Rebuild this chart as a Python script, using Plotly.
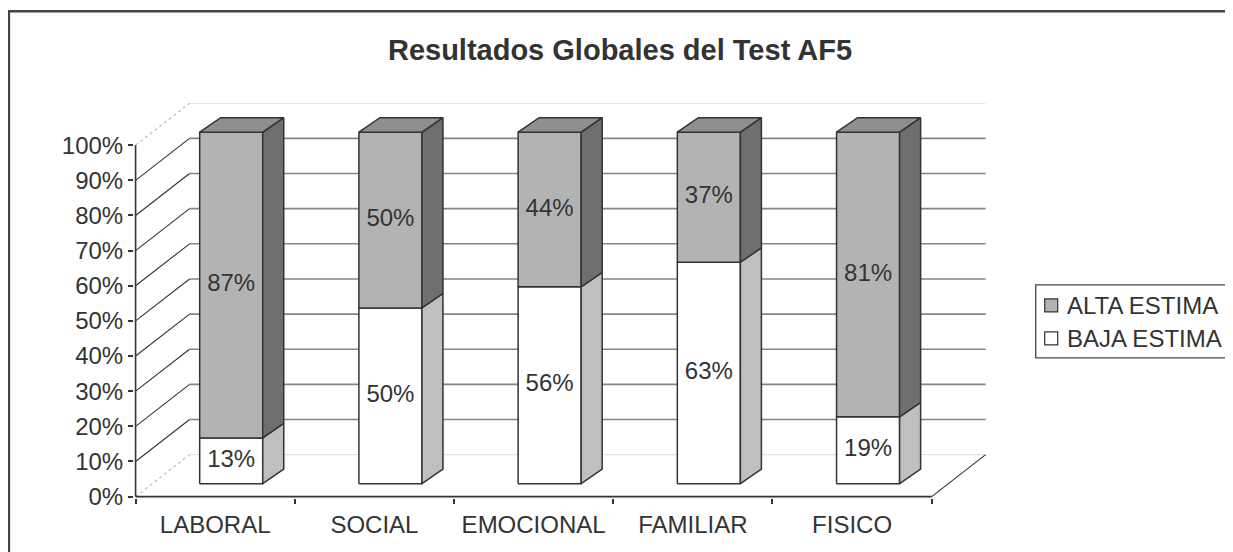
import plotly.graph_objects as go

# ---------------- data ----------------
categories = ["LABORAL", "SOCIAL", "EMOCIONAL", "FAMILIAR", "FISICO"]
alta_estima = [87, 50, 44, 37, 81]
baja_estima = [13, 50, 56, 63, 19]
series_names = ["ALTA ESTIMA", "BAJA ESTIMA"]
y_ticks = [0, 10, 20, 30, 40, 50, 60, 70, 80, 90, 100]
y_tick_labels = [f"{v}%" for v in y_ticks]
title_text = "Resultados Globales del Test AF5"

# ---------------- pseudo-3D geometry (in axis units) ----------------
WALL_DX, WALL_DY = 0.339, 11.93     # offset of back wall from front plane
BAR_DX, BAR_DY = 0.1005, 3.69       # offset of bar front face from front plane
DEPTH_DX, DEPTH_DY = 0.132, 4.12    # depth of each bar
HALF_W = 0.198                      # half width of bar front face

FONT = "Liberation Sans, Arial, sans-serif"
FS = 24
TXT = "#333333"
EDGE = "#333333"

C_ALTA_FRONT, C_ALTA_SIDE, C_ALTA_TOP = "#b3b3b3", "#6f6f6f", "#8f8f8f"
C_BAJA_FRONT, C_BAJA_SIDE = "#ffffff", "#bfbfbf"

n = len(categories)
x_left, x_right = -0.5, n - 0.5

fig = go.Figure()


def add_lines(segments, color, width, dash="solid"):
    xs, ys = [], []
    for (xa, ya), (xb, yb) in segments:
        xs += [xa, xb, None]
        ys += [ya, yb, None]
    fig.add_trace(go.Scatter(x=xs, y=ys, mode="lines", hoverinfo="skip",
                             line=dict(color=color, width=width, dash=dash)))


def add_polys(polys, fill, width=1.5):
    xs, ys = [], []
    for poly in polys:
        for px, py in poly + [poly[0]]:
            xs.append(px)
            ys.append(py)
        xs.append(None)
        ys.append(None)
    fig.add_trace(go.Scatter(x=xs, y=ys, mode="lines", fill="toself", fillcolor=fill,
                             hoverinfo="skip", line=dict(color=EDGE, width=width)))


# back wall gridlines
inner = [v for v in y_ticks if v not in (y_ticks[0], y_ticks[-1])]
outer = [y_ticks[0], y_ticks[-1]]
add_lines([((x_left + WALL_DX, v + WALL_DY), (x_right + WALL_DX, v + WALL_DY)) for v in outer],
          "#e2e2e2", 1.2)
add_lines([((x_left + WALL_DX, v + WALL_DY), (x_right + WALL_DX, v + WALL_DY)) for v in inner],
          "#858585", 1.6)
# left wall diagonals
add_lines([((x_left, v), (x_left + WALL_DX, v + WALL_DY)) for v in outer], "#bdbdbd", 1.2, "dot")
add_lines([((x_left, v), (x_left + WALL_DX, v + WALL_DY)) for v in inner], "#333333", 1.1)
# floor right edge
add_lines([((x_right, 0), (x_right + WALL_DX, WALL_DY))], "#333333", 1.1)
# front axis lines
add_lines([((x_left, y_ticks[0]), (x_left, y_ticks[-1])), ((x_left, 0), (x_right, 0))], "#333333", 1.6)

# bars
baja_front, baja_side, alta_front, alta_side, alta_top = [], [], [], [], []
for i in range(n):
    x0 = i + BAR_DX - HALF_W
    x1 = i + BAR_DX + HALF_W
    segs = [(0, baja_estima[i]), (baja_estima[i], baja_estima[i] + alta_estima[i])]
    for k, (lo, hi) in enumerate(segs):
        lo_y, hi_y = lo + BAR_DY, hi + BAR_DY
        front = [(x0, lo_y), (x1, lo_y), (x1, hi_y), (x0, hi_y)]
        side = [(x1, lo_y), (x1 + DEPTH_DX, lo_y + DEPTH_DY),
                (x1 + DEPTH_DX, hi_y + DEPTH_DY), (x1, hi_y)]
        if k == 0:
            baja_front.append(front)
            baja_side.append(side)
        else:
            alta_front.append(front)
            alta_side.append(side)
            alta_top.append([(x0, hi_y), (x1, hi_y),
                             (x1 + DEPTH_DX, hi_y + DEPTH_DY), (x0 + DEPTH_DX, hi_y + DEPTH_DY)])

add_polys(baja_front, C_BAJA_FRONT)
add_polys(baja_side, C_BAJA_SIDE)
add_polys(alta_front, C_ALTA_FRONT)
add_polys(alta_side, C_ALTA_SIDE)
add_polys(alta_top, C_ALTA_TOP)

# value labels
lx, ly, lt = [], [], []
for i in range(n):
    lx += [i + BAR_DX, i + BAR_DX]
    ly += [BAR_DY + baja_estima[i] / 2, BAR_DY + baja_estima[i] + alta_estima[i] / 2]
    lt += [f"{baja_estima[i]}%", f"{alta_estima[i]}%"]
fig.add_trace(go.Scatter(x=lx, y=ly, text=lt, mode="text", hoverinfo="skip",
                         textfont=dict(family=FONT, size=FS, color=TXT)))

# ---------------- layout ----------------
W, H = 1233, 552
OFF = 8  # page body margin compensation
ML, MR, MT, MB = 134.4 - OFF, 243.7 + OFF, 102.8 - OFF, 53.6 + OFF
pw, ph = W - ML - MR, H - MT - MB


def paper_x(p):
    return (p - OFF - ML) / pw


def paper_y(p):
    return (H - MB - (p - OFF)) / ph


shapes = [
    # outer chart border
    dict(type="rect", xref="paper", yref="paper", x0=paper_x(9.3), x1=paper_x(1260),
         y0=paper_y(580), y1=paper_y(11), line=dict(color="#444444", width=2.5)),
    # legend box
    dict(type="rect", xref="paper", yref="paper", x0=paper_x(1036), x1=paper_x(1250),
         y0=paper_y(358), y1=paper_y(285), line=dict(color="#444444", width=1.3),
         fillcolor="white"),
    dict(type="rect", xref="paper", yref="paper", x0=paper_x(1045), x1=paper_x(1058),
         y0=paper_y(312), y1=paper_y(299), line=dict(color="#333333", width=1.2),
         fillcolor=C_ALTA_FRONT),
    dict(type="rect", xref="paper", yref="paper", x0=paper_x(1045), x1=paper_x(1058),
         y0=paper_y(345), y1=paper_y(332), line=dict(color="#333333", width=1.2),
         fillcolor=C_BAJA_FRONT),
]

annotations = [
    dict(xref="paper", yref="paper", x=paper_x(1065), y=paper_y(306), text=series_names[0],
         showarrow=False, xanchor="left", yanchor="middle",
         font=dict(family=FONT, size=FS, color=TXT)),
    dict(xref="paper", yref="paper", x=paper_x(1065), y=paper_y(339), text=series_names[1],
         showarrow=False, xanchor="left", yanchor="middle",
         font=dict(family=FONT, size=FS, color=TXT)),
]

fig.update_layout(
    width=W, height=H,
    margin=dict(l=ML, r=MR, t=MT, b=MB, pad=0),
    paper_bgcolor="white", plot_bgcolor="white",
    showlegend=False,
    title=dict(text=f"<b>{title_text}</b>", x=(620 - OFF) / W, xref="container", xanchor="center",
               y=1 - (50 - OFF) / H, yref="container", yanchor="middle",
               font=dict(family=FONT, size=29, color=TXT)),
    xaxis=dict(range=[x_left - 0.01, x_right + 0.36], tickmode="array",
               tickvals=list(range(n)), ticktext=categories, ticks="",
               ticklabelstandoff=10,
               showgrid=False, zeroline=False, showline=False,
               tickfont=dict(family=FONT, size=FS, color=TXT),
               minor=dict(tickmode="array", tickvals=[x_left + k for k in range(n + 1)],
                          ticks="outside", ticklen=5, tickwidth=1.5, tickcolor=EDGE,
                          showgrid=False)),
    yaxis=dict(range=[-0.4, 112], tickmode="array", tickvals=y_ticks, ticktext=y_tick_labels,
               ticks="outside", ticklen=5, tickwidth=1.5, tickcolor=EDGE,
               showgrid=False, zeroline=False, showline=False,
               tickfont=dict(family=FONT, size=FS, color=TXT)),
    shapes=shapes,
    annotations=annotations,
)

fig.write_html("out.html")
